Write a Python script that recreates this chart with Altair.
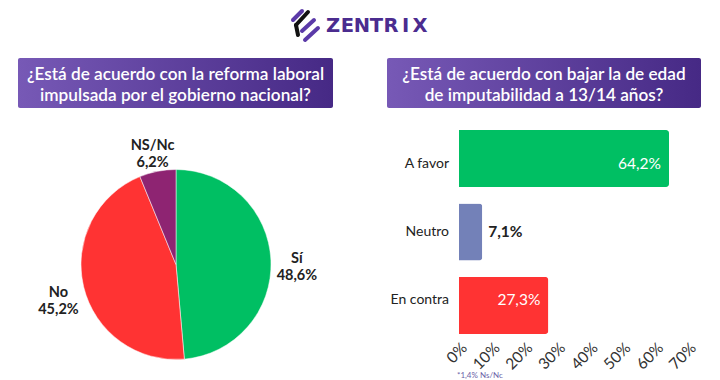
import altair as alt
import pandas as pd

# ---- data ----
pie_labels = ["Sí", "No", "NS/Nc"]
pie_values = [48.6, 45.2, 6.2]
pie_colors = ["#00BF63", "#FF3333", "#8E2472"]

bar_labels = ["A favor", "Neutro", "En contra"]
bar_values = [64.2, 7.1, 27.3]
bar_colors = ["#00BF63", "#7381B8", "#FF3333"]

x_ticks = [0, 10, 20, 30, 40, 50, 60, 70]

title_left = "¿Está de acuerdo con la reforma laboral\nimpulsada por el gobierno nacional?"
title_right = "¿Está de acuerdo con bajar la de edad\nde imputabilidad a 13/14 años?"
footnote = "*1,4% Ns/Nc"
brand = list("ZENTRIX")


def fmt(v):
    return f"{v:.1f}".replace(".", ",") + "%"


pie_df = pd.DataFrame({
    "label": pie_labels,
    "value": pie_values,
    "idx": list(range(len(pie_labels))),
    "text": [f"{l}\n{fmt(v)}" for l, v in zip(pie_labels, pie_values)],
})
bar_df = pd.DataFrame({
    "label": bar_labels,
    "value": bar_values,
    "text": [fmt(v) for v in bar_values],
})
brand_df = pd.DataFrame({"ch": brand, "i": list(range(len(brand)))})
one = pd.DataFrame({"a": [0]})

FONT = "Lato"
PURPLE = "#4B2C8F"

# ---- header logo ----
brand_text = alt.Chart(brand_df).mark_text(
    font="DejaVu Sans", fontWeight="bold", fontSize=19.5, color=PURPLE, baseline="middle"
).encode(
    x=alt.X("i:O", scale=alt.Scale(type="point", range=[325, 412], padding=0), axis=None),
    y=alt.value(18),
    text="ch:N",
)


def stroke(x1, y1, x2, y2, color):
    return alt.Chart(one).mark_rule(strokeWidth=4, strokeCap="round", color=color).encode(
        x=alt.value(x1), y=alt.value(y1), x2=alt.value(x2), y2=alt.value(y2)
    )


icon = [
    stroke(285, 12, 294, 3, "#5B3AA8"),
    stroke(300, 4, 288, 17, "#111111"),
    stroke(288, 17, 290, 27, "#111111"),
    stroke(294, 23, 306, 12, "#5B3AA8"),
    stroke(297, 32, 310, 20, "#5B3AA8"),
]

# ---- title boxes ----
grad = alt.LinearGradient(
    gradient="linear",
    stops=[alt.GradientStop(color="#7759B6", offset=0), alt.GradientStop(color="#462985", offset=1)],
    x1=0, x2=1, y1=0, y2=0,
)


def title_box(x1, x2, text):
    box = alt.Chart(one).mark_rect(fill=grad, cornerRadius=2).encode(
        x=alt.value(x1), x2=alt.value(x2), y=alt.value(50), y2=alt.value(100)
    )
    txt = alt.Chart(one).mark_text(
        font=FONT, fontSize=17.2, fontWeight=600, color="white", lineBreak="\n",
        lineHeight=21, align="center", baseline="middle"
    ).encode(x=alt.value((x1 + x2) / 2), y=alt.value(67), text=alt.value(text))
    return [box, txt]


# ---- pie ----
CX, CY = 168, 256.5
pie_base = alt.Chart(pie_df).encode(
    theta=alt.Theta("value:Q", stack=True),
    order=alt.Order("idx:Q"),
    x=alt.value(CX),
    y=alt.value(CY),
)
pie = pie_base.mark_arc(outerRadius=95, stroke="white", strokeWidth=0.5).encode(
    color=alt.Color("label:N", scale=alt.Scale(domain=pie_labels, range=pie_colors), legend=None)
)
pie_text = pie_base.mark_text(
    radius=121, font=FONT, fontSize=14.5, fontWeight="bold", color="#222222",
    lineBreak="\n", lineHeight=17, align="center", baseline="middle"
).encode(text="text:N")

# ---- bars ----
xs = alt.Scale(domain=[0, 70], range=[451, 680])
ys = alt.Scale(domain=bar_labels, range=[122, 326], paddingInner=0.224, paddingOuter=0)

bars = alt.Chart(bar_df).mark_bar(cornerRadiusEnd=3).encode(
    y=alt.Y("label:N", scale=ys, sort=bar_labels, axis=None),
    x=alt.X("value:Q", scale=xs, axis=alt.Axis(
        values=x_ticks, labelExpr="datum.value + '%'", labelAngle=315, labelFontSize=15.5,
        labelFont=FONT, labelColor="#333333", domain=False, ticks=False, tickSize=0,
        grid=False, labelPadding=2, offset=-37, labelOffset=5, title=None, labelAlign="right",
        labelBaseline="middle",
    )),
    color=alt.Color("label:N", scale=alt.Scale(domain=bar_labels, range=bar_colors), legend=None),
)
cat_text = alt.Chart(bar_df).mark_text(
    font=FONT, fontSize=14, color="#222222", align="right", baseline="middle"
).encode(
    y=alt.Y("label:N", scale=ys, sort=bar_labels, axis=None),
    x=alt.value(441),
    text="label:N",
)
val_in = alt.Chart(bar_df).transform_filter("datum.value >= 15").mark_text(
    font=FONT, fontSize=15.5, color="white", align="right", baseline="middle", dx=-8
).encode(
    y=alt.Y("label:N", scale=ys, sort=bar_labels, axis=None),
    x=alt.X("value:Q", scale=xs, axis=None),
    text="text:N",
)
val_out = alt.Chart(bar_df).transform_filter("datum.value < 15").mark_text(
    font=FONT, fontSize=15.5, fontWeight="bold", color="#222222", align="left",
    baseline="middle", dx=6
).encode(
    y=alt.Y("label:N", scale=ys, sort=bar_labels, axis=None),
    x=alt.X("value:Q", scale=xs, axis=None),
    text="text:N",
)
foot = alt.Chart(one).mark_text(
    font=FONT, fontSize=8, color="#6B5FA8", align="left", baseline="bottom"
).encode(x=alt.value(449), y=alt.value(372), text=alt.value(footnote))

layers = (
    [brand_text] + icon
    + title_box(10, 325, title_left) + title_box(379, 693, title_right)
    + [pie, pie_text, bars, cat_text, val_in, val_out, foot]
)

chart = alt.layer(*layers).resolve_scale(
    x="independent", y="independent", color="independent", theta="independent"
).properties(
    width=704, height=372, autosize=alt.AutoSizeParams(type="none"), padding=0
).configure_view(stroke=None)

chart.save("out.html", embed_options={"renderer": "svg", "actions": False})
